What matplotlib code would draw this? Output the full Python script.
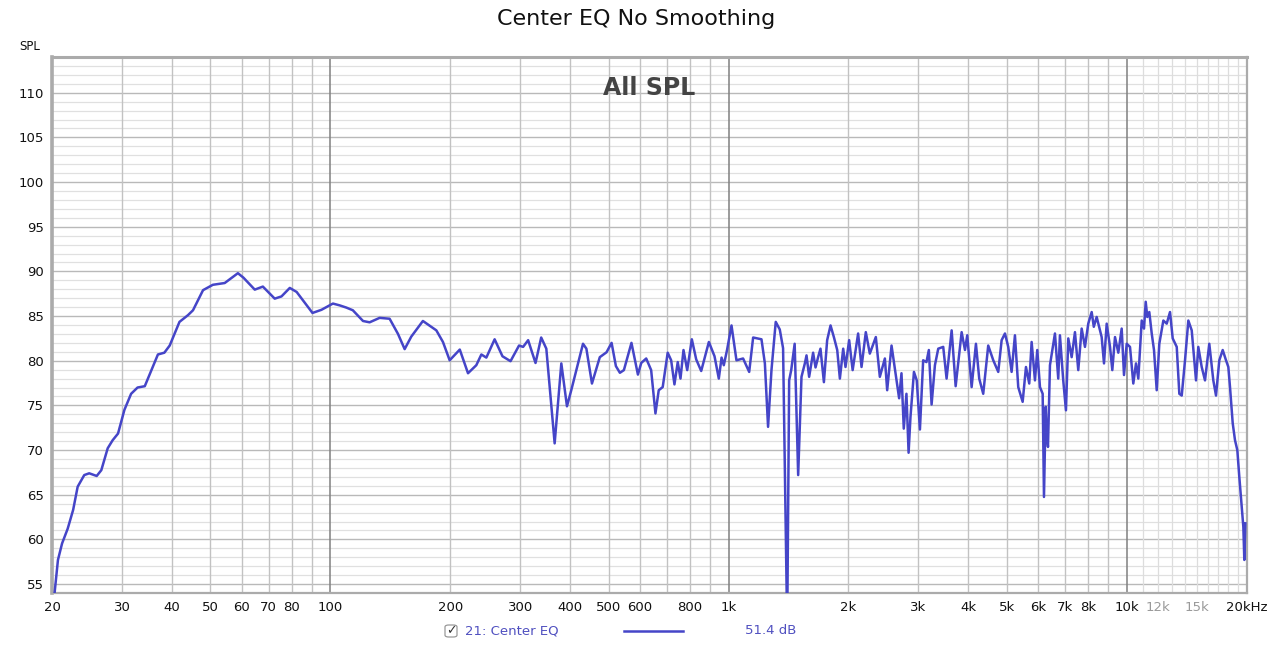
import matplotlib
matplotlib.use("Agg")
import matplotlib.pyplot as plt
from matplotlib.patches import FancyBboxPatch

# frequency response (Hz, dB SPL)
freq = [20.0, 20.3, 20.7, 21.2, 21.9, 22.6, 23.2, 24.1, 24.8, 25.9, 26.6, 27.6, 28.4, 29.3,
        30.4, 31.6, 32.8, 34.2, 35.5, 36.9, 38.3, 39.5, 41.8, 43.9, 45.2, 47.9, 50.7, 54.3,
        58.6, 60.5, 64.6, 67.7, 72.5, 75.4, 79.1, 82.3, 90.2, 95.0, 101.5, 105.5,
        109.7, 113.9, 120.8, 125.5, 133.0, 140.9, 147.9, 153.7, 159.7, 170.8, 184.6, 191.8,
        199.4, 211.4, 221.7, 232.6, 239.5, 246.5, 258.6, 270.6, 283.5, 297.8, 304.9, 313.9,
        327.6, 338.5, 348.7, 365.9, 380.3, 392.9, 402.8, 431.1, 439.6, 454.0, 475.1, 494.0,
        508.6, 521.4, 533.6, 546.1, 570.5, 592.2, 603.7, 621.3, 639.3, 655.4, 668.0, 683.5,
        703.5, 717.7, 731.5, 745.6, 757.5, 770.8, 787.5, 808.9, 829.6, 853.9, 892.6, 922.3,
        945.4, 960.6, 973.2, 992.0, 1017.5, 1047,
        1088, 1127, 1153, 1210, 1234, 1257, 1282, 1314, 1345, 1371, 1404, 1420, 1437, 1466,
        1496, 1525, 1555, 1570, 1594, 1631, 1654, 1679, 1702, 1736, 1769, 1804, 1839, 1875,
        1904, 1941, 1967, 2009, 2050, 2116, 2158, 2212, 2264, 2344, 2399, 2470, 2503, 2567,
        2617, 2682, 2719, 2755, 2798, 2833, 2864, 2922, 2970, 3025, 3082, 3141, 3185, 3236,
        3299, 3363, 3461, 3529, 3634, 3719, 3850, 3925, 3977, 4079, 4182, 4262, 4362, 4490,
        4623, 4758, 4852, 4946, 5041, 5140, 5240, 5341, 5479, 5585, 5692, 5771, 5883, 5962,
        6056, 6151, 6198, 6259, 6296, 6343, 6416, 6604, 6731, 6797, 6928, 7038, 7133, 7274,
        7414, 7557, 7707, 7856, 8007, 8167, 8267, 8406, 8652, 8770, 8907, 9080, 9201, 9346,
        9526, 9714, 9845, 10000, 10193, 10389, 10553, 10694, 10907, 11053, 11162, 11265,
        11396, 11557, 11710, 11895, 12075, 12360, 12604, 12846, 13047, 13355, 13557, 13747,
        14011, 14282, 14564, 14930, 15130, 15430, 15727, 16122, 16501, 16760, 17084, 17422,
        17759, 17998, 18173, 18460, 18707, 18958, 19178, 19446, 19630, 19743, 19857]
spl = [53.5, 54.0, 57.7, 59.55, 61.2, 63.3, 65.9, 67.2, 67.4, 67.1, 67.75, 70.2, 71.1, 71.85,
       74.5, 76.3, 77.0, 77.15, 78.9, 80.7, 80.9, 81.7, 84.35, 85.1, 85.65, 87.9, 88.5, 88.7,
       89.8, 89.3, 87.96, 88.3, 86.95, 87.2, 88.15, 87.7, 85.35, 85.7, 86.4, 86.2,
       85.95, 85.65, 84.45, 84.3, 84.8, 84.7, 83.0, 81.3, 82.7, 84.45, 83.4, 82.1,
       80.05, 81.25, 78.6, 79.5, 80.7, 80.35, 82.4, 80.5, 79.95, 81.7, 81.55, 82.3,
       79.75, 82.6, 81.35, 70.75, 79.7, 74.9, 76.7, 81.9, 81.35, 77.45, 80.4, 80.95,
       82.0, 79.4, 78.65, 78.95, 82.0, 78.45, 79.75, 80.25, 78.95, 74.1, 76.7, 77.05,
       80.9, 80.05, 77.35, 79.85, 78.0, 81.2, 78.95, 82.4, 80.15, 78.85, 82.1, 80.5,
       78.0, 80.35, 79.5, 81.25, 83.95, 80.05,
       80.25, 78.75, 82.6, 82.4, 79.7, 72.6, 78.95, 84.35, 83.5, 81.4, 50.0, 77.8, 78.95, 81.9,
       67.2, 78.2, 79.7, 80.6, 78.2, 80.9, 79.25, 80.4, 81.35, 77.6, 82.3, 83.95, 82.65, 81.2,
       78.0, 81.35, 79.3, 82.3, 78.95, 83.05, 79.3, 83.2, 80.8, 82.65, 78.2, 80.25, 76.7, 81.7,
       79.1, 75.8, 78.6, 72.4, 76.3, 69.7, 73.7, 78.75, 77.8, 72.3, 80.05, 79.85, 81.2, 75.1,
       79.5, 81.35, 81.55, 78.0, 83.4, 77.15, 83.2, 81.2, 82.85, 77.05, 81.9, 78.0, 76.3, 81.7,
       80.05, 78.75, 82.3, 83.05, 81.55, 78.75, 82.85, 77.05, 75.4, 79.3, 77.45, 82.1, 77.8, 81.2,
       77.05, 76.3, 64.75, 74.85, 71.85, 70.35, 79.5, 83.05, 78.0, 82.85, 77.8, 74.45, 82.5, 80.4,
       83.2, 78.95, 83.6, 81.55, 84.15, 85.45, 83.8, 84.9, 82.65, 79.7, 84.15, 81.55, 78.95, 82.65,
       80.9, 83.6, 78.4, 81.9, 81.55, 77.45, 79.7, 78.0, 84.5, 83.6, 86.6, 84.9,
       85.45, 83.05, 81.2, 76.7, 81.9, 84.5, 84.15, 85.45, 82.5, 81.55, 76.3, 76.1,
       80.05, 84.5, 83.4, 77.8, 81.55, 79.3, 77.8, 81.9, 77.8, 76.1, 80.05, 81.2,
       80.05, 79.3, 77.05, 73.0, 71.1, 70.0, 67.0, 63.65, 61.4, 57.7, 61.8]

tick_freqs = [20, 30, 40, 50, 60, 70, 80, 100, 200, 300, 400, 500, 600, 800,
              1000, 2000, 3000, 4000, 5000, 6000, 7000, 8000, 10000, 12000, 15000, 20000]
tick_labels = ["20", "30", "40", "50", "60", "70", "80", "100", "200", "300", "400", "500",
               "600", "800", "1k", "2k", "3k", "4k", "5k", "6k", "7k", "8k", "10k", "12k",
               "15k", "20kHz"]
grey_labels = ["12k", "15k"]
y_ticks = [55, 60, 65, 70, 75, 80, 85, 90, 95, 100, 105, 110]

line_col = "#4545c8"

fig = plt.figure(figsize=(12.72, 6.47), dpi=100)
ax = fig.add_axes([52 / 1272, 1 - 593 / 647, 1195 / 1272, 536 / 647])
ax.set_xscale("log")
ax.set_xlim(20, 20050)
ax.set_ylim(54, 114)

# grid: 1 dB light, 5 dB darker
for db in range(54, 115):
    if db % 5 == 0:
        ax.axhline(db, color="#b9b9b9", lw=1.0, zorder=1)
    else:
        ax.axhline(db, color="#e0e0e0", lw=0.9, zorder=0)

for dec in [10, 100, 1000]:
    for m in range(2, 10):
        f = dec * m
        if 20 <= f <= 20000:
            ax.axvline(f, color="#c2c2c2", lw=1.0, zorder=1)
for m in range(11, 20):
    ax.axvline(m * 1000, color="#dddddd", lw=0.9, zorder=1)
for f in [100, 1000, 10000]:
    ax.axvline(f, color="#808080", lw=1.1, zorder=1)

ax.plot(freq, spl, color=line_col, lw=1.8, zorder=3, solid_joinstyle="round")

ax.set_xticks(tick_freqs)
ax.set_xticklabels(tick_labels)
ax.minorticks_off()
ax.set_yticks(y_ticks)
ax.tick_params(axis="both", length=0, labelsize=9.5, colors="#111111")
ax.tick_params(axis="x", pad=6)
ax.tick_params(axis="y", pad=6)
for lab in ax.get_xticklabels():
    if lab.get_text() in grey_labels:
        lab.set_color("#9a9a9a")

for side, sp in ax.spines.items():
    sp.set_color("#ababab")
    sp.set_linewidth(1.6)
ax.spines["left"].set_linewidth(2.6)
ax.spines["top"].set_linewidth(2.2)

ax.text(0.5, 0.965, "All SPL", transform=ax.transAxes, ha="center", va="top",
        fontsize=17, fontweight="bold", color="#444444", zorder=4)

fig.text(0.5, 1 - 19 / 647, "Center EQ No Smoothing", ha="center", va="center",
         fontsize=16, color="#111111")
fig.text(30 / 1272, 1 - 47 / 647, "SPL", ha="center", va="center", fontsize=8.5,
         color="#111111")

# legend row
box = FancyBboxPatch((445 / 1272, 1 - 637 / 647), 12 / 1272, 12 / 647,
                     boxstyle="round,pad=0,rounding_size=0.003", transform=fig.transFigure,
                     facecolor="white", edgecolor="#999999", lw=0.9)
fig.patches.append(box)
fig.text(451 / 1272, 1 - 631 / 647, "\u2713", ha="center", va="center", fontsize=9,
         color="#333333")
fig.text(465 / 1272, 1 - 631 / 647, "21: Center EQ", ha="left", va="center",
         fontsize=9.5, color="#5050c0")
fig.add_artist(plt.Line2D([624 / 1272, 683 / 1272], [1 - 631 / 647, 1 - 631 / 647],
                          transform=fig.transFigure, color=line_col, lw=1.8))
fig.text(745 / 1272, 1 - 631 / 647, "51.4 dB", ha="left", va="center",
         fontsize=9.5, color="#5050c0")

fig.savefig("out.png", dpi=100, facecolor="white")
